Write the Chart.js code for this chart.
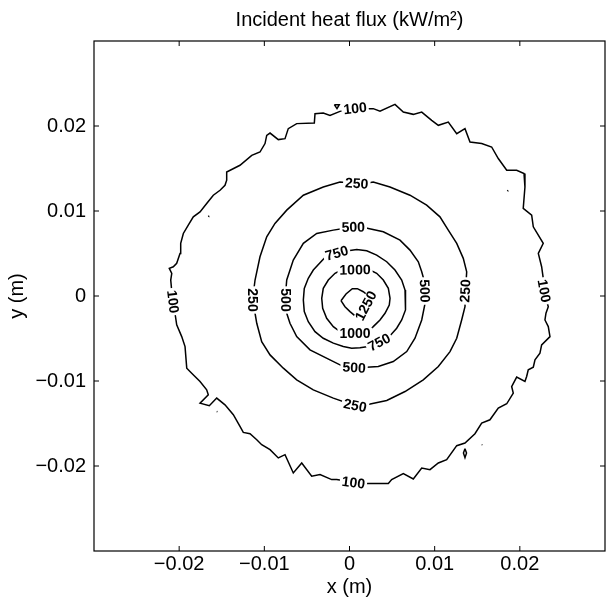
<!DOCTYPE html>
<html><head><meta charset="utf-8">
<script src="https://cdn.jsdelivr.net/npm/chart.js@4/dist/chart.umd.min.js"></script>
<style>html,body{margin:0;padding:0;background:#fff}#wrap{width:608px;height:604px}</style>
</head><body><div id="wrap"><canvas id="c" width="608" height="604"></canvas></div>
<script>
const titleText = 'Incident heat flux (kW/m²)';
const xTitle = 'x (m)';
const yTitle = 'y (m)';
const tickValues = [-0.02, -0.01, 0, 0.01, 0.02];

// contour lines (x, y in metres)
const contour100 = [[0.00065,0.02204],[0.00182,0.02204],[0.00279,0.02204],[0.00358,0.02175],[0.00534,0.02254],[0.00632,0.02164],[0.00749,0.02137],[0.00848,0.02164],[0.00965,0.02066],[0.01043,0.02008],[0.01160,0.02046],[0.01259,0.01910],[0.01356,0.01969],[0.01415,0.01811],[0.01552,0.01793],[0.01669,0.01753],[0.01747,0.01617],[0.01846,0.01479],[0.01963,0.01479],[0.02049,0.01441],[0.02060,0.01283],[0.02040,0.01030],[0.02139,0.00951],[0.02158,0.00814],[0.02275,0.00619],[0.02217,0.00501],[0.02256,0.00344],[0.02275,0.00208],[0.02283,0.00059],[0.02334,-0.00126],[0.02307,-0.00203],[0.02295,-0.00282],[0.02334,-0.00360],[0.02354,-0.00478],[0.02256,-0.00575],[0.02236,-0.00673],[0.02178,-0.00751],[0.02158,-0.00837],[0.02099,-0.00869],[0.02080,-0.00947],[0.02060,-0.01006],[0.01963,-0.00954],[0.01904,-0.01065],[0.01923,-0.01142],[0.01846,-0.01268],[0.01747,-0.01318],[0.01649,-0.01456],[0.01552,-0.01494],[0.01473,-0.01620],[0.01356,-0.01729],[0.01259,-0.01761],[0.01141,-0.01925],[0.01043,-0.01964],[0.00945,-0.02043],[0.00848,-0.02023],[0.00749,-0.02152],[0.00632,-0.02090],[0.00495,-0.02160],[0.00456,-0.02207],[0.00319,-0.02207],[0.00182,-0.02207],[0.00045,-0.02199],[-0.00033,-0.02180],[-0.00150,-0.02160],[-0.00209,-0.02160],[-0.00346,-0.02101],[-0.00444,-0.02121],[-0.00561,-0.01964],[-0.00660,-0.02082],[-0.00757,-0.01867],[-0.00836,-0.01905],[-0.00933,-0.01808],[-0.01031,-0.01749],[-0.01089,-0.01691],[-0.01168,-0.01620],[-0.01247,-0.01605],[-0.01286,-0.01534],[-0.01364,-0.01397],[-0.01462,-0.01280],[-0.01559,-0.01201],[-0.01646,-0.01291],[-0.01755,-0.01260],[-0.01658,-0.01162],[-0.01677,-0.01104],[-0.01755,-0.01006],[-0.01853,-0.00908],[-0.01911,-0.00849],[-0.01931,-0.00595],[-0.01970,-0.00478],[-0.02029,-0.00340],[-0.02049,-0.00203],[-0.02076,-0.00067],[-0.02099,0.00188],[-0.02087,0.00267],[-0.02116,0.00325],[-0.02069,0.00344],[-0.02029,0.00384],[-0.01990,0.00501],[-0.01982,0.00619],[-0.01951,0.00736],[-0.01893,0.00834],[-0.01834,0.00931],[-0.01755,0.00990],[-0.01677,0.01088],[-0.01599,0.01186],[-0.01520,0.01244],[-0.01462,0.01303],[-0.01442,0.01362],[-0.01442,0.01459],[-0.01286,0.01538],[-0.01148,0.01655],[-0.01051,0.01694],[-0.00992,0.01793],[-0.00972,0.01890],[-0.00933,0.01917],[-0.00836,0.01840],[-0.00757,0.01851],[-0.00719,0.01969],[-0.00620,0.02028],[-0.00413,0.02035],[-0.00405,0.02145],[-0.00308,0.02152],[-0.00229,0.02125],[-0.00112,0.02172]];
const contour250 = [[0.00085,0.01323],[0.00182,0.01323],[0.00279,0.01342],[0.00475,0.01283],[0.00710,0.01186],[0.00906,0.01068],[0.01062,0.00931],[0.01160,0.00775],[0.01259,0.00619],[0.01336,0.00443],[0.01376,0.00285],[0.01362,0.00059],[0.01356,-0.00126],[0.01317,-0.00282],[0.01259,-0.00497],[0.01180,-0.00654],[0.01043,-0.00830],[0.00866,-0.00986],[0.00652,-0.01124],[0.00437,-0.01229],[0.00202,-0.01280],[0.00065,-0.01291],[-0.00190,-0.01201],[-0.00425,-0.01104],[-0.00620,-0.00986],[-0.00777,-0.00849],[-0.00933,-0.00693],[-0.01031,-0.00537],[-0.01089,-0.00321],[-0.01109,-0.00203],[-0.01139,-0.00047],[-0.01109,0.00188],[-0.01051,0.00461],[-0.00972,0.00696],[-0.00875,0.00854],[-0.00737,0.01010],[-0.00542,0.01186],[-0.00308,0.01283],[-0.00112,0.01342]];
const contour500 = [[0.00045,0.00807],[0.00182,0.00804],[0.00397,0.00755],[0.00593,0.00657],[0.00710,0.00540],[0.00808,0.00403],[0.00848,0.00285],[0.00875,0.00188],[0.00881,0.00059],[0.00886,-0.00106],[0.00848,-0.00282],[0.00769,-0.00497],[0.00672,-0.00654],[0.00514,-0.00771],[0.00338,-0.00830],[0.00202,-0.00837],[0.00053,-0.00845],[-0.00088,-0.00822],[-0.00229,-0.00751],[-0.00464,-0.00634],[-0.00620,-0.00478],[-0.00699,-0.00321],[-0.00737,-0.00203],[-0.00757,-0.00047],[-0.00737,0.00188],[-0.00660,0.00423],[-0.00542,0.00619],[-0.00385,0.00736],[-0.00190,0.00775],[-0.00053,0.00798]];
const contour750 = [[-0.00150,0.00501],[-0.00014,0.00532],[0.00085,0.00548],[0.00202,0.00532],[0.00319,0.00481],[0.00437,0.00403],[0.00534,0.00305],[0.00613,0.00188],[0.00652,0.00070],[0.00663,-0.00047],[0.00652,-0.00164],[0.00613,-0.00282],[0.00554,-0.00379],[0.00484,-0.00458],[0.00350,-0.00548],[0.00221,-0.00595],[0.00123,-0.00610],[0.00026,-0.00614],[-0.00073,-0.00595],[-0.00190,-0.00555],[-0.00308,-0.00497],[-0.00405,-0.00419],[-0.00484,-0.00302],[-0.00531,-0.00184],[-0.00542,-0.00047],[-0.00531,0.00090],[-0.00484,0.00208],[-0.00425,0.00305],[-0.00346,0.00391],[-0.00288,0.00454]];
const contour1000 = [[0.00065,0.00305],[0.00241,0.00305],[0.00319,0.00267],[0.00397,0.00188],[0.00456,0.00090],[0.00476,-0.00027],[0.00467,-0.00106],[0.00417,-0.00203],[0.00358,-0.00282],[0.00279,-0.00360],[0.00232,-0.00419],[0.00065,-0.00446],[-0.00112,-0.00419],[-0.00190,-0.00360],[-0.00268,-0.00262],[-0.00315,-0.00144],[-0.00326,-0.00027],[-0.00308,0.00090],[-0.00249,0.00188],[-0.00170,0.00267],[-0.00112,0.00297]];
const contour1250 = [[-0.00100,-0.00055],[-0.00041,0.00023],[0.00033,0.00086],[0.00092,0.00086],[0.00162,0.00050],[0.00209,0.00012],[0.00194,-0.00117],[0.00076,-0.00243],[0.00006,-0.00184],[-0.00053,-0.00126]];
// small isolated 100 kW/m² islands
const islands100 = [
  [[-0.00178,0.02251],[-0.00120,0.02251],[-0.00147,0.02204]],
  [[-0.01658,0.00943],[-0.01650,0.00940]],
  [[-0.01559,-0.01358],[-0.01551,-0.01361]],
  [[0.01853,0.01244],[0.01861,0.01241]],
  [[0.01552,-0.01749],[0.01560,-0.01752]],
  [[0.01356,-0.01796],[0.01374,-0.01847],[0.01356,-0.01902],[0.01338,-0.01847]]
];
const levels = [100, 250, 500, 750, 1000, 1250];
const contours = [contour100, contour250, contour500, contour750, contour1000, contour1250];
// inline contour labels
const labelLevel = [100, 100, 100, 100, 250, 250, 250, 250, 500, 500, 500, 500, 750, 750, 1000, 1000, 1250];
const labelX = [0.00065, 0.02283, 0.00045, -0.02076, 0.00085, 0.01362, 0.00065, -0.01139, 0.00045, 0.00881, 0.00053, -0.00757, -0.00150, 0.00350, 0.00065, 0.00065, 0.00194];
const labelY = [0.02204, 0.00059, -0.02199, -0.00067, 0.01323, 0.00059, -0.01291, -0.00047, 0.00807, 0.00059, -0.00845, -0.00047, 0.00501, -0.00548, 0.00305, -0.00446, -0.00117];

const FONT = '"Liberation Sans", Arial, Helvetica, sans-serif';

function closed(pts) { return pts.concat([pts[0]]).map(p => ({x: p[0], y: p[1]})); }
const datasets = [];
contours.forEach((c, i) => datasets.push({label: String(levels[i]), data: closed(c)}));
islands100.forEach(c => datasets.push({label: '100', data: closed(c)}));
datasets.forEach(d => Object.assign(d, {showLine: true, pointRadius: 0, borderColor: '#000', borderWidth: 1.5, fill: false, tension: 0}));

const framePlugin = {
  id: 'frame',
  afterDraw(chart) {
    const {ctx, chartArea: a, scales: {x, y}} = chart;
    ctx.save();
    ctx.strokeStyle = '#000';
    ctx.lineWidth = 1.2;
    ctx.strokeRect(a.left, a.top, a.right - a.left, a.bottom - a.top);
    ctx.lineWidth = 1;
    ctx.beginPath();
    tickValues.forEach(v => {
      const px = x.getPixelForValue(v), py = y.getPixelForValue(v);
      ctx.moveTo(px, a.bottom); ctx.lineTo(px, a.bottom - 5);
      ctx.moveTo(px, a.top); ctx.lineTo(px, a.top + 5);
      ctx.moveTo(a.left, py); ctx.lineTo(a.left + 5, py);
      ctx.moveTo(a.right, py); ctx.lineTo(a.right - 5, py);
    });
    ctx.stroke();
    ctx.fillStyle = '#000';
    ctx.font = '20px ' + FONT;
    ctx.textAlign = 'center';
    ctx.textBaseline = 'middle';
    ctx.fillText(titleText, (a.left + a.right) / 2, 20);
    ctx.restore();
  }
};

const labelPlugin = {
  id: 'clabels',
  afterDatasetsDraw(chart) {
    const {ctx, scales: {x, y}} = chart;
    ctx.save();
    ctx.font = 'bold 14px ' + FONT;
    ctx.textAlign = 'center';
    ctx.textBaseline = 'middle';
    labelLevel.forEach((lev, i) => {
      const pts = contours[levels.indexOf(lev)];
      const px = x.getPixelForValue(labelX[i]), py = y.getPixelForValue(labelY[i]);
      let best = 0, bd = Infinity;
      pts.forEach((p, j) => {
        const dx = x.getPixelForValue(p[0]) - px, dy = y.getPixelForValue(p[1]) - py;
        const d = dx * dx + dy * dy;
        if (d < bd) { bd = d; best = j; }
      });
      const n = pts.length, a = pts[(best - 1 + n) % n], b = pts[(best + 1) % n];
      let ang = Math.atan2(y.getPixelForValue(b[1]) - y.getPixelForValue(a[1]), x.getPixelForValue(b[0]) - x.getPixelForValue(a[0]));
      while (ang > Math.PI / 2) ang -= Math.PI;
      while (ang <= -Math.PI / 2) ang += Math.PI;
      const t = String(lev);
      const w = ctx.measureText(t).width;
      ctx.save();
      ctx.translate(px, py);
      ctx.rotate(ang);
      ctx.fillStyle = '#fff';
      ctx.fillRect(-w / 2 - 2, -6, w + 4, 12);
      ctx.fillStyle = '#000';
      ctx.fillText(t, 0, 0.5);
      ctx.restore();
    });
    ctx.restore();
  }
};

function fmt(v) {
  if (Math.abs(v) < 1e-9) return '0';
  return (v < 0 ? '\u2212' : '') + Math.abs(v).toFixed(2);
}

new Chart(document.getElementById('c'), {
  type: 'scatter',
  data: {datasets},
  options: {
    responsive: false,
    animation: false,
    devicePixelRatio: 1,
    layout: {padding: {top: 41, right: 3, bottom: 0, left: 0}},
    plugins: {legend: {display: false}, tooltip: {enabled: false}, title: {display: false}},
    scales: {
      x: {
        type: 'linear', min: -0.03, max: 0.03,
        afterBuildTicks: s => { s.ticks = tickValues.map(v => ({value: v})); },
        afterFit: s => { s.height = 53; },
        grid: {display: true, drawOnChartArea: false, drawTicks: false},
        border: {display: false},
        ticks: {color: '#000', padding: 1, maxRotation: 0, autoSkip: false, font: {family: FONT, size: 20}, callback: v => fmt(v)},
        title: {display: true, text: xTitle, color: '#000', font: {family: FONT, size: 20}, padding: {top: 0, bottom: 5}}
      },
      y: {
        type: 'linear', min: -0.03, max: 0.03,
        afterBuildTicks: s => { s.ticks = tickValues.map(v => ({value: v})); },
        afterFit: s => { s.width = 94; },
        grid: {display: true, drawOnChartArea: false, drawTicks: false},
        border: {display: false},
        ticks: {color: '#000', padding: 8, autoSkip: false, font: {family: FONT, size: 20}, callback: v => fmt(v)},
        title: {display: true, text: yTitle, color: '#000', font: {family: FONT, size: 20}, padding: {top: 5, bottom: 0}}
      }
    }
  },
  plugins: [labelPlugin, framePlugin]
});
</script></body></html>
